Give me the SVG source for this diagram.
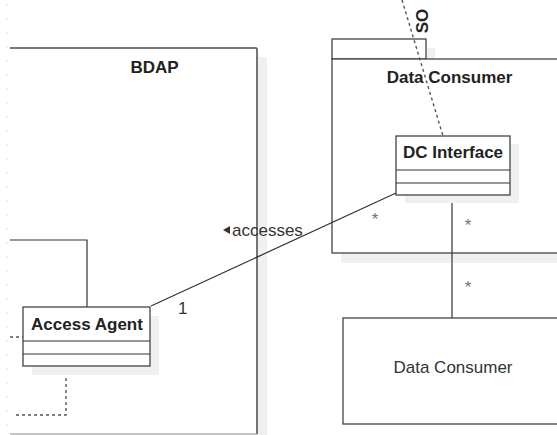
<svg xmlns="http://www.w3.org/2000/svg" width="557" height="435" viewBox="0 0 557 435">
  <style>
    .frame{fill:none;stroke:#4a4a4a;stroke-width:1.5}
    .box{fill:#ffffff;stroke:#444444;stroke-width:1.3}
    .shadow{fill:#f0f0f0;stroke:none}
    .line{fill:none;stroke:#333333;stroke-width:1.2}
    .dash{fill:none;stroke:#555555;stroke-width:1.4;stroke-dasharray:3 3}
    .bold{font-family:"Liberation Sans",Arial,sans-serif;font-weight:bold;font-size:17px;fill:#222222;text-anchor:middle}
    .reg{font-family:"Liberation Sans",Arial,sans-serif;font-size:17px;fill:#333333}
    .star{font-family:"Liberation Sans",Arial,sans-serif;font-size:17px;fill:#777777;text-anchor:middle}
  </style>
  <rect width="557" height="435" fill="#ffffff"/>
  <line x1="7" y1="4" x2="7" y2="435" stroke="#e4e4e4" stroke-width="1.5" stroke-dasharray="1.5 12.5"/>

  <g id="bdap">
    <rect class="shadow" x="257" y="57" width="10" height="378"/>
    <line x1="10" y1="48" x2="256" y2="48" stroke="#777777" stroke-width="2"/>
    <path class="frame" d="M256,48 Q257,48 257,49 L257,434"/>
    <line x1="10" y1="434" x2="257" y2="434" stroke="#8a8a8a" stroke-width="1"/>
    <text class="bold" x="154.5" y="73">BDAP</text>
  </g>

  <g id="data-consumer-package">
    <rect class="shadow" x="341" y="48" width="94" height="20"/>
    <rect class="shadow" x="341" y="68" width="240" height="195"/>
    <rect x="332" y="39" width="94" height="20" fill="#ffffff" stroke="#444444" stroke-width="1.3"/>
    <rect x="332" y="59" width="240" height="194" fill="#ffffff" stroke="#444444" stroke-width="1.3"/>
    <text class="bold" x="449.5" y="83">Data Consumer</text>
  </g>

  <g id="data-consumer-box">
    <rect class="box" x="343" y="318" width="240" height="106"/>
    <text class="reg" x="453" y="373" text-anchor="middle">Data Consumer</text>
  </g>

  <g id="connectors">
    <line class="dash" x1="402" y1="0" x2="443" y2="136"/>
    <polyline class="line" points="10,240 87,240 87,307"/>
    <line class="dash" x1="10" y1="337" x2="23" y2="337"/>
    <polyline class="dash" points="66,366 66,415 13,415"/>
    <line class="line" x1="151" y1="306" x2="396" y2="193"/>
    <line class="line" x1="452" y1="195" x2="452" y2="318"/>
  </g>

  <g id="access-agent">
    <rect class="shadow" x="32" y="316" width="127" height="59"/>
    <rect class="box" x="23" y="307" width="127" height="59"/>
    <line class="line" x1="23" y1="341" x2="150" y2="341"/>
    <line class="line" x1="23" y1="354" x2="150" y2="354"/>
    <text class="bold" x="87" y="330">Access Agent</text>
  </g>

  <g id="dc-interface">
    <rect class="shadow" x="405" y="144" width="114" height="59"/>
    <rect class="box" x="396" y="136" width="114" height="59"/>
    <line class="line" x1="396" y1="170" x2="510" y2="170"/>
    <line class="line" x1="396" y1="183" x2="510" y2="183"/>
    <text class="bold" x="453" y="158">DC Interface</text>
  </g>

  <g id="labels">
    <text class="bold" transform="translate(428,21) rotate(-90)" x="0" y="0">SO</text>
    <polygon points="223,230 230,226 230,234" fill="#333333"/>
    <text class="reg" x="232" y="235.5">accesses</text>
    <text class="reg" x="178" y="314">1</text>
    <text class="star" x="375" y="225">*</text>
    <text class="star" x="468" y="231">*</text>
    <text class="star" x="468" y="293">*</text>
  </g>
</svg>
